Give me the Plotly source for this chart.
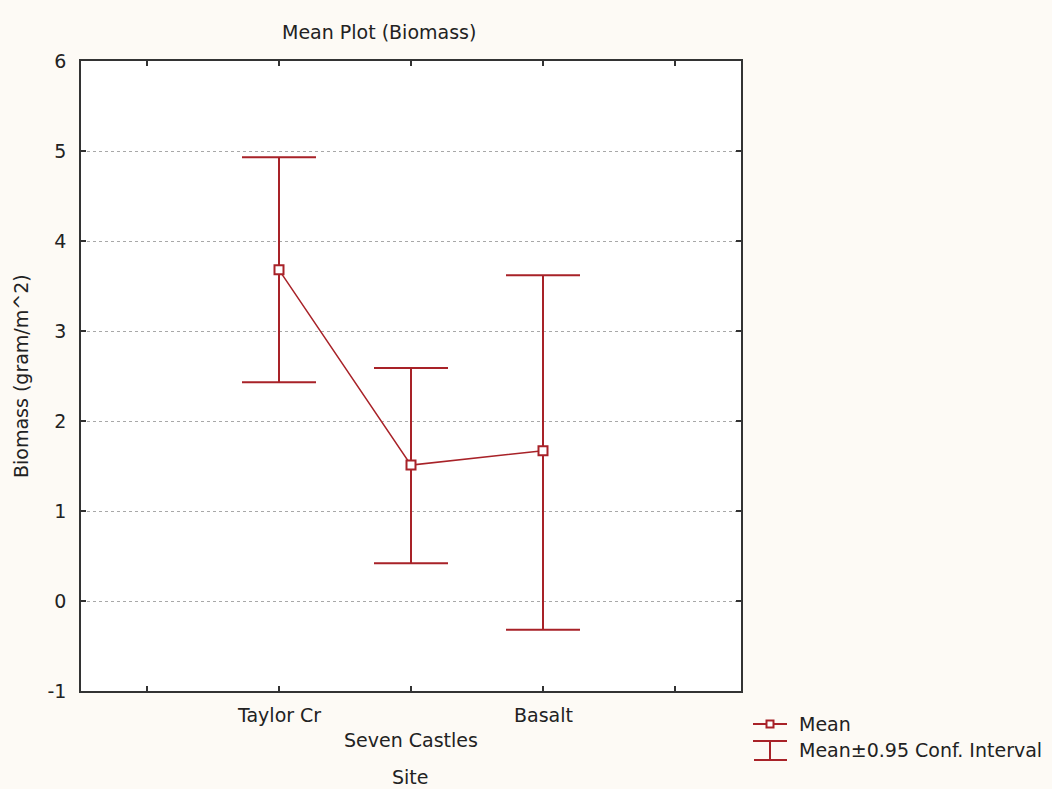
import plotly.graph_objects as go

# ---- data ----
sites = ["Taylor Cr", "Seven Castles", "Basalt"]
site_pos = [1, 2, 3]
mean_biomass = [3.68, 1.51, 1.67]
ci_upper = [4.93, 2.59, 3.62]
ci_lower = [2.43, 0.42, -0.32]
y_ticks = [-1, 0, 1, 2, 3, 4, 5, 6]
x_ticks = [0, 1, 2, 3, 4]

RED = "#A82228"
FONT = "DejaVu Sans"
FS = 19
TXT = "#222222"
W, H = 1052, 789
L, R, T, B = 81, 311, 61, 98
PW = W - L - R
PH = H - T - B


def px(xp):
    return (xp - L) / PW


def py(yp):
    return (H - B - yp) / PH


err_plus = [u - m for u, m in zip(ci_upper, mean_biomass)]
err_minus = [m - lo for m, lo in zip(mean_biomass, ci_lower)]

fig = go.Figure()
fig.add_trace(go.Scatter(
    x=site_pos, y=mean_biomass, mode="lines+markers",
    line=dict(color=RED, width=1.5),
    marker=dict(symbol="square", size=9, color="white", line=dict(color=RED, width=2)),
    error_y=dict(type="data", array=err_plus, arrayminus=err_minus,
                 color=RED, thickness=2, width=37),
    showlegend=False, cliponaxis=False,
))

annotations = []
for i, s in enumerate(sites):
    annotations.append(dict(
        x=site_pos[i], xref="x", y=py(715 if i % 2 == 0 else 740), yref="paper",
        text=s, showarrow=False, xanchor="center", yanchor="middle",
        font=dict(family=FONT, size=FS, color=TXT)))

annotations += [
    dict(x=px(379), y=py(32), xref="paper", yref="paper", text="Mean Plot (Biomass)",
         showarrow=False, xanchor="center", yanchor="middle",
         font=dict(family=FONT, size=FS, color=TXT)),
    dict(x=px(21), y=0.5, xref="paper", yref="paper", text="Biomass (gram/m^2)",
         textangle=-90, showarrow=False, xanchor="center", yanchor="middle",
         font=dict(family=FONT, size=FS, color=TXT)),
    dict(x=px(410), y=py(777), xref="paper", yref="paper", text="Site",
         showarrow=False, xanchor="center", yanchor="middle",
         font=dict(family=FONT, size=FS, color=TXT)),
    dict(x=px(797), y=py(724), xref="paper", yref="paper", text="Mean",
         showarrow=False, xanchor="left", yanchor="middle",
         font=dict(family=FONT, size=FS, color=TXT)),
    dict(x=px(797), y=py(750), xref="paper", yref="paper", text="Mean±0.95 Conf. Interval",
         showarrow=False, xanchor="left", yanchor="middle",
         font=dict(family=FONT, size=FS, color=TXT)),
]

ln = dict(color=RED, width=2)
shapes = [
    dict(type="line", xref="paper", yref="paper", x0=px(753), x1=px(787), y0=py(724), y1=py(724), line=ln),
    dict(type="rect", xref="paper", yref="paper", x0=px(766.5), x1=px(773.5), y0=py(727.5), y1=py(720.5),
         line=ln, fillcolor="white"),
    dict(type="line", xref="paper", yref="paper", x0=px(770), x1=px(770), y0=py(741), y1=py(760), line=ln),
    dict(type="line", xref="paper", yref="paper", x0=px(753), x1=px(787), y0=py(741), y1=py(741), line=ln),
    dict(type="line", xref="paper", yref="paper", x0=px(754), x1=px(787), y0=py(760), y1=py(760), line=ln),
]

fig.update_layout(
    width=W, height=H,
    margin=dict(l=L, r=R, t=T, b=B, autoexpand=False),
    paper_bgcolor="#FDFAF5", plot_bgcolor="white",
    font=dict(family=FONT, size=FS, color=TXT),
    annotations=annotations, shapes=shapes,
    xaxis=dict(range=[-0.5, 4.5], tickvals=x_ticks, showticklabels=False,
               ticks="inside", ticklen=5, tickwidth=1.5, tickcolor="#333",
               showline=True, linecolor="#333", linewidth=1.5, mirror="ticks",
               showgrid=False, zeroline=False),
    yaxis=dict(range=[-1, 6], tickvals=y_ticks, ticktext=[str(v) for v in y_ticks],
               ticks="inside", ticklen=5, tickwidth=1.5, tickcolor="#333",
               showline=True, linecolor="#333", linewidth=1.5, mirror="ticks",
               showgrid=True, gridcolor="#A8A8A8", griddash="dot", gridwidth=1,
               zeroline=False, ticklabelstandoff=9,
               tickfont=dict(family=FONT, size=FS, color=TXT)),
)

fig.write_html("out.html")
